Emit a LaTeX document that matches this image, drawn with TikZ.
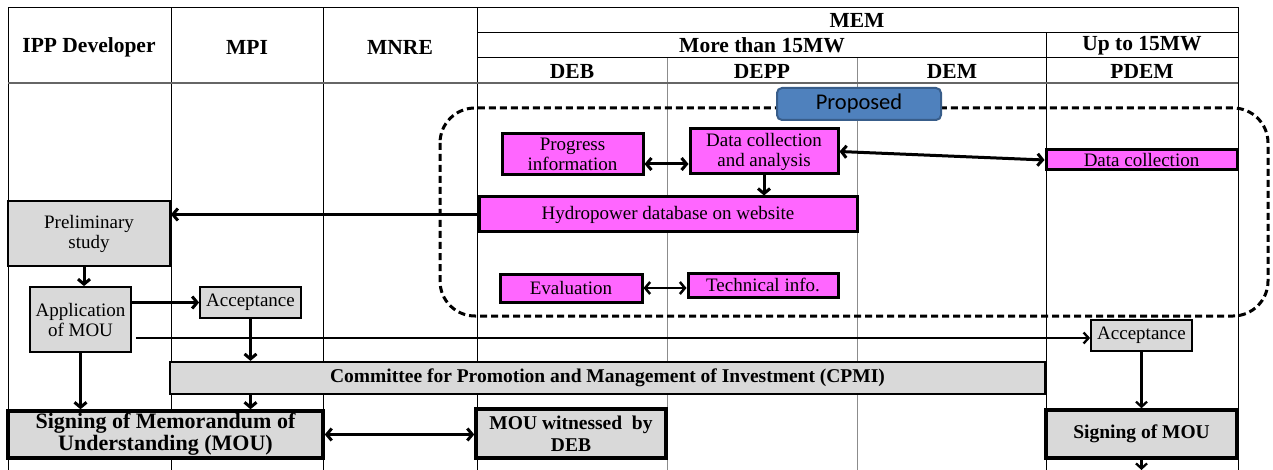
\documentclass[tikz,border=0pt]{standalone}
\usepackage{fontspec}
\setmainfont{Liberation Serif}
\newfontfamily\calib{Carlito}
\usetikzlibrary{arrows.meta}
\definecolor{magbox}{RGB}{255,102,255}
\definecolor{graybox}{RGB}{217,217,217}
\definecolor{propfill}{RGB}{79,129,189}
\definecolor{propdraw}{RGB}{56,93,138}
\begin{document}
\begin{tikzpicture}[x=1pt,y=-1pt,
  tbl/.style={line width=1pt,black},
  tblg/.style={line width=1pt,black!45},
  hdr/.style={font=\fontsize{21.5}{22}\selectfont\bfseries,inner sep=0},
  graynode/.style={draw,fill=graybox,line width=1.8pt,inner sep=0,align=center,font=\fontsize{19}{20}\selectfont},
  bignode/.style={draw,fill=graybox,line width=3.5pt,inner sep=0,align=center,font=\fontsize{19.5}{22}\selectfont\bfseries},
  magnode/.style={draw,fill=magbox,line width=3pt,inner sep=0,align=center,font=\fontsize{19}{20}\selectfont},
  arr/.style={line width=3pt,-{Straight Barb[length=5pt,width=12pt]}},
  dbl/.style={line width=3pt,{Straight Barb[length=5pt,width=12pt]}-{Straight Barb[length=5pt,width=12pt]}},
  thinarr/.style={line width=2.3pt,-{Straight Barb[length=5pt,width=11pt]}},
  dashbox/.style={line width=3pt,dash pattern=on 7pt off 4pt,rounded corners=35pt}
]
\useasboundingbox (0,0) rectangle (1273,470);
% table
\draw[tbl] (8,470) -- (8,8) -- (1238,8) -- (1238,470);
\draw[tbl] (171,8) -- (171,470);
\draw[tbl] (323,8) -- (323,470);
\draw[tbl] (477,8) -- (477,470);
\draw[tbl] (1046,33) -- (1046,470);
\draw[tblg] (667,58) -- (667,470);
\draw[tblg] (857,58) -- (857,470);
\draw[tbl] (477,33) -- (1238,33);
\draw[tbl] (477,58) -- (1238,58);
\draw[line width=1.5pt,black!60] (8,83) -- (1238,83);
% headers
\node[hdr] (hipp) at (89,47) {IPP Developer};
\node[hdr] (hmpi) at (247,47) {MPI};
\node[hdr] (hmnre) at (400,47) {MNRE};
\node[hdr] (hmem) at (857,20.5) {MEM};
\node[hdr] (hmore) at (762,45.5) {More than 15MW};
\node[hdr] (hup) at (1142,45.5) {Up to 15MW};
\node[hdr] (hdeb) at (572,71) {DEB};
\node[hdr] (hdepp) at (762,71) {DEPP};
\node[hdr] (hdem) at (952,71) {DEM};
\node[hdr] (hpdem) at (1142,71) {PDEM};
% dashed region
\draw[dashbox] (440,108) rectangle (1268,316);
\node[draw=propdraw,fill=propfill,line width=2pt,rounded corners=5pt,minimum width=164pt,minimum height=32pt,inner sep=0,font=\calib\fontsize{22.5}{24}\selectfont] (prop) at (859,104) {Proposed};
% magenta nodes
\node[magnode,minimum width=141pt,minimum height=41pt] (prog) at (572.5,154.5) {Progress\\information};
\node[magnode,minimum width=148pt,minimum height=45pt] (dca) at (764,151.5) {Data collection\\and analysis};
\node[magnode,minimum width=191pt,minimum height=20pt] (dc) at (1141.5,160) {Data collection};
\node[magnode,minimum width=378pt,minimum height=35pt] (hydro) at (668,214.5) {Hydropower database on website};
\node[magnode,minimum width=142pt,minimum height=28pt] (eval) at (571,288) {Evaluation};
\node[magnode,minimum width=150pt,minimum height=24pt] (tech) at (763,285) {Technical info.};
% gray nodes
\node[graynode,minimum width=162pt,minimum height=65pt] (prelim) at (89,233.5) {Preliminary\\study};
\node[graynode,minimum width=101pt,minimum height=65pt] (appl) at (80.5,319.5) {Application\\of MOU};
\node[graynode,minimum width=101pt,minimum height=31pt] (acc1) at (250.5,302.5) {Acceptance};
\node[graynode,minimum width=101pt,minimum height=31pt] (acc2) at (1141.5,335.5) {Acceptance};
\node[graynode,line width=2.2pt,minimum width=875pt,minimum height=32pt,font=\fontsize{19.5}{22}\selectfont\bfseries] (cpmi) at (607.5,378) {Committee for Promotion and Management of Investment (CPMI)};
\node[bignode,minimum width=315pt,minimum height=47pt,font=\fontsize{22}{22}\selectfont\bfseries] (sign1) at (165.5,434.5) {Signing of Memorandum of\\Understanding (MOU)};
\node[bignode,minimum width=190pt,minimum height=49pt] (wit) at (571,433.5) {MOU witnessed\ \ by\\DEB};
\node[bignode,minimum width=191pt,minimum height=48pt] (sign2) at (1141.5,434) {Signing of MOU};
\coordinate (bot) at (1141.5,470);
% arrows
\draw[dbl] ([yshift=-9.5pt]prog.east) -- ([yshift=-12.5pt]dca.west);
\draw[dbl] (dca.east) -- (dc.west);
\draw[arr] (dca.south) -- (dca.south |- hydro.north);
\draw[dbl,line width=2.5pt] (eval.east) -- (eval.east -| tech.west);
\draw[arr] (hydro.west) -- (hydro.west -| prelim.east);
\draw[arr] ([xshift=-5pt]prelim.south) -- ([xshift=-5pt]prelim.south |- appl.north);
\draw[arr] (acc1.west -| appl.east) -- (acc1.west);
\draw[thinarr] ([xshift=4pt,yshift=-18.5pt]appl.east) -- ([yshift=-18.5pt]appl.east -| acc2.west);
\draw[arr] (acc1.south) -- (acc1.south |- cpmi.north);
\draw[arr] (acc1.south |- cpmi.south) -- (acc1.south |- sign1.north);
\draw[arr] (appl.south) -- (appl.south |- sign1.north);
\draw[dbl] (sign1.east) -- (sign1.east -| wit.west);
\draw[thinarr] (acc2.south) -- (acc2.south |- sign2.north);
\draw[thinarr] (sign2.south) -- (bot);
\end{tikzpicture}
\end{document}
